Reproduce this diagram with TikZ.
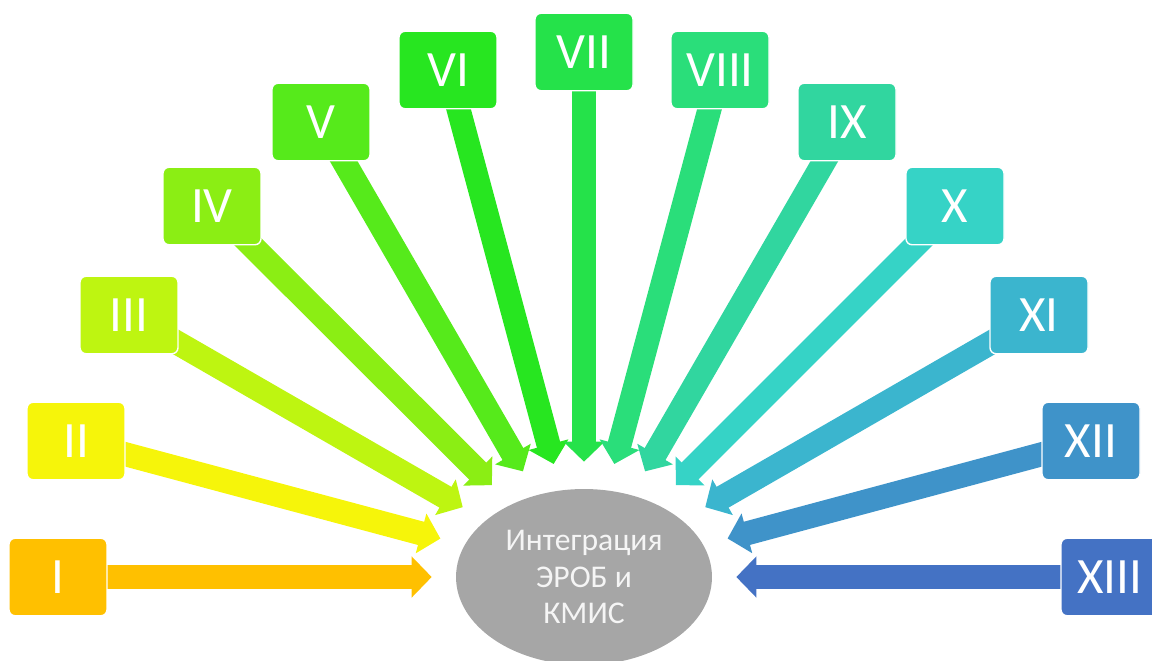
\documentclass[tikz,border=0pt]{standalone}
\usepackage{fontspec}
\setmainfont{Carlito}
\usetikzlibrary{arrows.meta,shapes.geometric,backgrounds}
\definecolor{stepI}{HTML}{FFC000}
\definecolor{stepII}{HTML}{F6F50A}
\definecolor{stepIII}{HTML}{BEF511}
\definecolor{stepIV}{HTML}{8BEE14}
\definecolor{stepV}{HTML}{56EA1B}
\definecolor{stepVI}{HTML}{27E620}
\definecolor{stepVII}{HTML}{25E24A}
\definecolor{stepVIII}{HTML}{2ADE7A}
\definecolor{stepIX}{HTML}{31D69F}
\definecolor{stepX}{HTML}{36D3C6}
\definecolor{stepXI}{HTML}{3BB5CE}
\definecolor{stepXII}{HTML}{3F93C9}
\definecolor{stepXIII}{HTML}{4472C4}

\begin{document}
\begin{tikzpicture}[
        x=0.02cm, y=-0.02cm,
        box/.style={rectangle, draw=white, line width=0.8pt, fill=#1, rounded corners=0.12cm, minimum width=1.96cm, minimum height=1.55cm, text=white, font=\fontsize{29}{32}\selectfont},
        arrow/.style={draw=#1, line width=0.48cm, -{Triangle[length=0.4cm, width=0.8cm]}}
        ]
        \useasboundingbox (0,0) rectangle (1152,660);

        \node[ellipse, fill=black!35, text=black!4, inner sep=0pt, minimum width=5.12cm, minimum height=3.52cm, align=center, font=\fontsize{18}{20.8}\selectfont] (core) at (584,577) {Интеграция\\ЭРОБ и\\КМИС};
        \node[ellipse, inner sep=0pt, minimum width=6.08cm, minimum height=4.6cm] (ring) at (584,577) {};

        \node[box=stepI] (b1) at (58,577) {I};
        \node[box=stepII] (b2) at (76,441) {II};
        \node[box=stepIII] (b3) at (129,315) {III};
        \node[box=stepIV] (b4) at (212,206) {IV};
        \node[box=stepV] (b5) at (321,122) {V};
        \node[box=stepVI] (b6) at (448,70) {VI};
        \node[box=stepVII] (b7) at (584,52) {VII};
        \node[box=stepVIII] (b8) at (720,70) {VIII};
        \node[box=stepIX] (b9) at (847,122) {IX};
        \node[box=stepX] (b10) at (955,206) {X};
        \node[box=stepXI] (b11) at (1039,315) {XI};
        \node[box=stepXII] (b12) at (1091,441) {XII};
        \node[box=stepXIII] (b13) at (1110,577) {XIII};

        \begin{pgfonlayer}{background}
        \draw[arrow=stepI] (b1.center) -- (ring);
        \draw[arrow=stepII] (b2.center) -- (ring);
        \draw[arrow=stepIII] (b3.center) -- (ring);
        \draw[arrow=stepIV] (b4.center) -- (ring);
        \draw[arrow=stepV] (b5.center) -- (ring);
        \draw[arrow=stepVI] (b6.center) -- (ring);
        \draw[arrow=stepVII] (b7.center) -- (ring);
        \draw[arrow=stepVIII] (b8.center) -- (ring);
        \draw[arrow=stepIX] (b9.center) -- (ring);
        \draw[arrow=stepX] (b10.center) -- (ring);
        \draw[arrow=stepXI] (b11.center) -- (ring);
        \draw[arrow=stepXII] (b12.center) -- (ring);
        \draw[arrow=stepXIII] (b13.center) -- (ring);
        \end{pgfonlayer}
    \end{tikzpicture}
\end{document}
